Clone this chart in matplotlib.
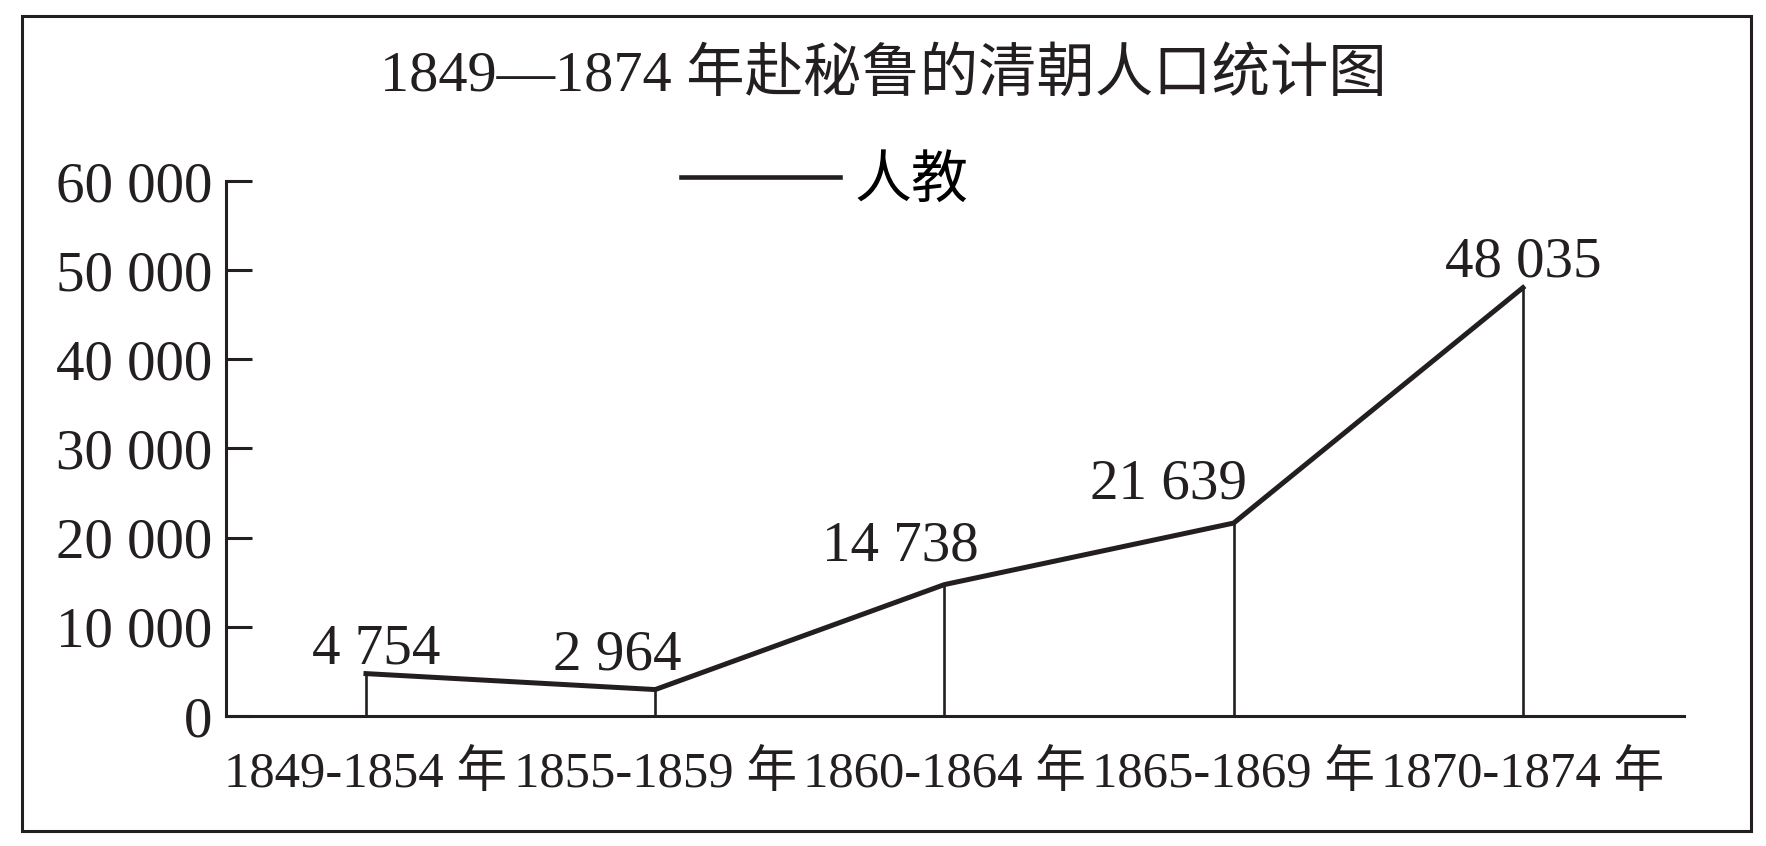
import matplotlib
matplotlib.use("Agg")
import matplotlib.pyplot as plt
from matplotlib.lines import Line2D
from matplotlib.patches import Rectangle

plt.rcParams["font.family"] = ["Liberation Serif", "Noto Sans CJK SC", "DejaVu Sans"]

INK = "#231f20"

periods = ["1849-1854 年", "1855-1859 年", "1860-1864 年", "1865-1869 年", "1870-1874 年"]
people = [4754, 2964, 14738, 21639, 48035]
value_labels = ["4 754", "2 964", "14 738", "21 639", "48 035"]
yticks = [0, 10000, 20000, 30000, 40000, 50000, 60000]
ytick_labels = ["0", "10 000", "20 000", "30 000", "40 000", "50 000", "60 000"]
title = "1849—1874 年赴秘鲁的清朝人口统计图"
series_name = "人教"

# label nudges in pixels (dx, dy above the point)
label_offsets = [(10, 10), (-38, 20), (-44, 24), (-65, 25), (0, 11)]

fig = plt.figure(figsize=(17.66, 8.46), dpi=100)
ax = fig.add_axes([226 / 1766, 1 - 716 / 846, (1684 - 226) / 1766, (716 - 181) / 846])

x = list(range(len(people)))
ax.plot(x, people, color=INK, lw=3.6, solid_joinstyle="miter", zorder=3)
ax.vlines(x, 0, people, color=INK, lw=1.9, zorder=2)

for xi, yi, txt, (dx, dy) in zip(x, people, value_labels, label_offsets):
    ax.annotate(txt, (xi, yi), xytext=(dx, dy), textcoords="offset pixels",
                ha="center", va="baseline", fontsize=41, color=INK)

ax.set_xlim(-0.484, 4.557)
ax.set_ylim(0, 60000)
ax.set_yticks(yticks)
ax.set_yticklabels(ytick_labels, fontsize=41, color=INK)
ax.set_xticks(x)
ax.set_xticklabels(periods, fontsize=36.5, color=INK)
ax.tick_params(axis="y", direction="in", length=19, width=2.2, color=INK, pad=10)
ax.tick_params(axis="x", length=0, pad=25)
for side in ("top", "right"):
    ax.spines[side].set_visible(False)
for side in ("left", "bottom"):
    ax.spines[side].set_linewidth(2.2)
    ax.spines[side].set_color(INK)

handle = Line2D([], [], color=INK, lw=3.3)
fig.legend([handle], [series_name], loc="center left",
           bbox_to_anchor=(681 / 1766, 1 - 182 / 846), frameon=False,
           fontsize=41, handlelength=2.8, handletextpad=0.25, borderpad=0,
           borderaxespad=0)

fig.text(0.5, 1 - 91 / 846, title, ha="center", va="baseline", fontsize=42, color=INK)

fig.patches.append(Rectangle((22 / 1766, 1 - 831 / 846), 1729 / 1766, 815 / 846,
                             transform=fig.transFigure, fill=False, lw=2.2, ec=INK))

fig.savefig("out.png", dpi=100)
